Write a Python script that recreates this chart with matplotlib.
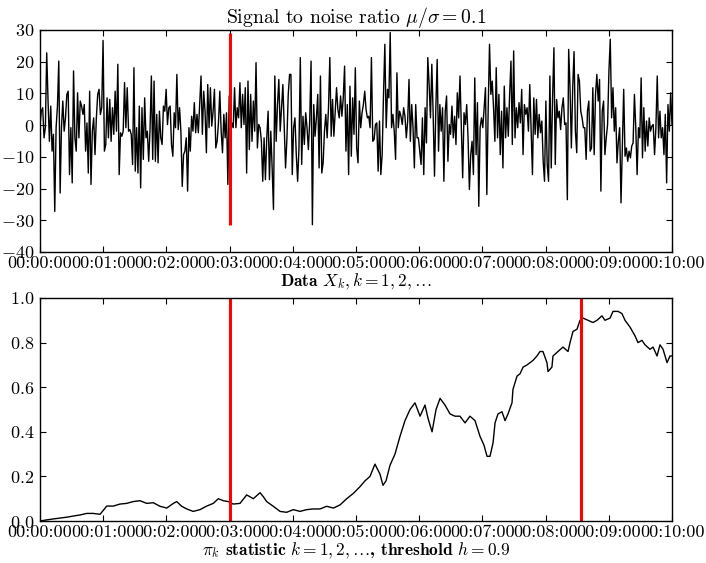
import numpy as np
import matplotlib
matplotlib.use("Agg")
import matplotlib.pyplot as plt
from matplotlib.ticker import MultipleLocator, FuncFormatter

# ---------------- data ----------------
signal = [
    0.2, 4.4, 5.5, -4.0, -0.8, 22.8, 7.6, -5.1, 6.0, -8.2, -2.9, -27.2, -0.8, 6.0, 20.2, -21.4,
    -0.8, 7.6, -1.9, 2.3, 9.7, 10.7, -15.6, -0.8, -18.2, 17.1, -4.0, -8.2, 10.2, -4.0, 7.6, 6.0,
    3.4, 6.5, -8.2, 0.7, -15.1, 10.7, -18.7, -1.9, 2.3, -9.3, 2.3, 9.7, 11.3, 3.4, 5.5, 26.7,
    -8.2, -6.1, 8.6, -4.0, 8.1, -5.1, 5.5, -2.9, 10.7, -1.9, 19.2, -15.6, -2.4, -3.5, -1.9, 13.4,
    -0.8, 11.8, -1.9, -1.4, -2.9, -12.4, 18.1, -14.5, -0.8, -15.1, 6.0, -19.8, 5.5, -10.8, 8.6,
    -4.0, -1.9, -11.4, -1.4, 15.5, -10.8, 13.9, -11.4, 3.4, -11.9, 4.4, -4.0, -6.1, 6.0,
    # 2:00 - 4:00
    4.4, 11.3, 0.2, 5.5, 6.0, -6.1, -9.8, 3.9, -0.8, 16.0, -1.4, 5.5, -1.9, -19.3, -9.3, -8.2,
    -4.0, -20.8, -0.8, -8.2, 2.8, -1.9, 7.1, -2.4, 3.4, -2.4, 6.5, 15.5, -2.9, 10.7, 4.4, -8.7,
    12.8, -0.8, 11.8, -0.3, 4.4, 11.3, -7.2, -5.1, 0.7, 10.7, -1.9, -8.7, 3.4, -4.0, 3.9, -18.7,
    9.2, -3.5, 0.7, -0.8, 11.8, -0.8, 5.5, 2.3, 13.4, -0.8, 9.7, 0.2, 11.8, -15.1, 13.9, -7.7,
    9.7, -5.1, 7.6, -1.9, 19.7, -7.2, 0.2, -0.8, -5.1, -17.7, -4.0, -17.2, -4.0, 4.4, -17.2,
    -1.9, -13.5, -26.6, 15.5, -5.1, 6.5, 14.4, -1.9, 5.5, 12.8, -0.8, -13.5, -4.5, 9.7, 16.0,
    # 4:00 - 6:00
    16.0, -15.6, -0.8, 2.3, -9.3, -17.7, -7.2, 21.3, -12.4, 2.8, -6.1, 3.9, -0.8, -7.7, 1.3,
    20.2, -31.4, 6.5, -3.5, 2.3, 9.7, -13.5, 15.5, -15.1, -11.9, -1.9, 3.4, -4.0, 5.5, 21.3,
    -3.5, 8.1, -3.5, 3.9, 11.8, 4.9, 2.3, 9.2, 2.8, 8.6, 18.6, -8.2, 6.5, -15.6, 12.3, -9.8,
    8.6, -2.9, 18.1, -7.2, -11.9, 7.6, -0.8, 3.9, 6.5, 10.7, 4.9, 2.3, 2.8, -0.8, 21.3, -5.1,
    -4.5, 0.2, 0.7, -14.5, 1.3, -15.6, -9.3, 9.7, 25.5, -0.8, 11.3, 8.6, 29.2, -0.8, 3.4,
    -1.9, -10.8, 16.5, -0.8, 4.4, 2.8, 0.2, 5.5, 2.8, -4.0, 1.3, 14.4, -5.1, 6.5, -0.8, -13.5,
    6.5, -4.0,
    # 6:00 - 8:00
    -4.0, -8.2, -12.4, 2.3, -15.6, 5.5, -5.6, 21.3, 12.8, 2.3, 19.2, 3.4, -16.1, 5.5, 20.7,
    -8.2, 6.5, -1.9, 5.5, -17.7, 4.4, 9.2, -11.4, 0.2, -2.9, 6.0, -4.0, 2.8, -6.1, 10.2, 2.3,
    15.5, -0.8, -16.6, 3.9, 0.2, 6.5, -4.0, -20.3, -9.3, -5.1, -15.6, 14.9, -9.3, 7.1, -25.6,
    -0.8, 2.3, -0.8, 5.5, 11.8, -21.9, 4.9, 25.5, 9.7, 13.9, 5.5, -5.1, 18.1, -4.0, 9.7, -9.3,
    4.4, -13.5, 12.3, -4.0, 5.5, -3.5, 9.7, 20.2, -6.1, 23.4, -4.0, 5.5, -0.8, 7.1, 0.7, 11.3,
    -9.3, 6.5, 3.4, 5.5, -1.9, 12.8, -1.4, -15.6, 8.6, -2.9, 8.1, -4.0, 3.4, -2.4, 1.3, -11.4,
    -17.7, 7.6,
    # 8:00 - 10:00
    -12.4, -17.7, 15.5, -13.5, 8.6, 24.4, -12.4, 8.1, 2.3, 4.4, -1.4, 5.5, 8.6, 0.2, 0.7,
    -23.5, 23.9, 11.8, -7.2, 11.8, 23.2, -1.9, -8.7, 16.0, 13.9, 4.4, 2.3, -0.8, -0.8, -10.8,
    4.4, 7.6, -8.2, -7.2, 11.8, -9.3, 9.7, 16.0, 7.6, 14.4, -20.8, 4.4, 7.6, -9.3, -4.0, 0.2,
    17.1, 27.1, 2.3, 11.8, -1.9, 5.5, -11.9, -5.1, -0.8, -24.5, -7.2, 11.3, -9.8, -7.2, -11.4,
    -8.2, -10.3, -6.6, -5.6, 9.7, -0.8, -15.6, -0.8, -4.0, 14.9, -10.3, 5.5, -8.2, 1.3, -6.6,
    2.3, -1.9, -0.3, 0.2, -9.3, -0.8, 15.5, -4.0, 4.4, -4.0, -0.8, -9.3, 3.4, -18.2, 6.5,
    -1.9, 10.2, 0.2,
]

pi_t = [0, 6.4, 12.3, 19, 25.3, 31.3, 38, 44.3, 50.6, 57, 61.7, 63.3, 69.6, 76, 82.3, 88.3,
        94.9, 101.3, 107.6, 113.9, 120.3, 126.6, 129.8, 134.5, 139.3, 145.5, 151.9, 158.3,
        164.5, 169.3, 174, 178.8, 183.5, 189.9, 196.2, 202.5, 208.9, 212, 215.2, 221.5,
        227.9, 234.2, 240.5, 246.8, 253.2, 259.5, 265.8, 272.2, 278.5, 284.8, 291.2, 297.5,
        303.8, 308.5, 313.3, 318, 322.8, 325.6, 328.5, 332.3, 337, 341.8, 346.5, 351.3, 356,
        360.8, 365.5, 368.4, 372.2, 376, 379.8, 384.5, 389.3, 394, 398.7, 403.5, 408.2, 413,
        417.7, 421.5, 424.4, 427.2, 430.1, 432, 434.8, 438.6, 441.5, 444.3, 448.1, 449,
        452.9, 455.7, 458.6, 462.4, 465.2, 468, 471.8, 474.7, 477.5, 481.3, 482.3, 486, 487,
        491.8, 496.5, 501.3, 503.2, 506, 509.8, 512.7, 515.5, 520.3, 525, 528.8, 533.5,
        536.4, 541.2, 544, 548.8, 552.5, 555.4, 560.1, 564.9, 567.7, 571.5, 574.4, 579.1,
        582, 585.8, 588.6, 591.5, 595.3, 598.1, 600]
pi_v = [0.0, 0.005, 0.009, 0.013, 0.017, 0.022, 0.027, 0.034, 0.034, 0.03, 0.057, 0.067,
        0.067, 0.076, 0.079, 0.087, 0.091, 0.079, 0.082, 0.066, 0.058, 0.079, 0.087, 0.066,
        0.054, 0.043, 0.051, 0.067, 0.079, 0.10, 0.091, 0.087, 0.076, 0.079, 0.117, 0.10,
        0.127, 0.109, 0.087, 0.066, 0.043, 0.039, 0.051, 0.043, 0.051, 0.054, 0.054, 0.066,
        0.058, 0.072, 0.10, 0.124, 0.154, 0.18, 0.20, 0.255, 0.21, 0.16, 0.18, 0.25, 0.30,
        0.38, 0.45, 0.50, 0.53, 0.47, 0.52, 0.46, 0.40, 0.50, 0.55, 0.52, 0.48, 0.47, 0.47,
        0.44, 0.47, 0.45, 0.38, 0.34, 0.29, 0.29, 0.35, 0.44, 0.48, 0.49, 0.45, 0.48, 0.53,
        0.59, 0.65, 0.66, 0.69, 0.70, 0.71, 0.72, 0.74, 0.76, 0.76, 0.71, 0.67, 0.69, 0.74,
        0.76, 0.78, 0.76, 0.80, 0.85, 0.86, 0.90, 0.91, 0.90, 0.89, 0.90, 0.92, 0.90, 0.91,
        0.94, 0.94, 0.93, 0.90, 0.87, 0.83, 0.80, 0.81, 0.79, 0.77, 0.78, 0.74, 0.79, 0.77,
        0.71, 0.74, 0.74]

change_time = 180      # seconds (00:03:00)
alarm_time = 514       # seconds, first crossing of threshold
t_end = 600

# ---------------- style ----------------
plt.rcParams.update({
    "font.family": "serif",
    "font.serif": ["cmr10"],
    "mathtext.fontset": "cm",
    "axes.formatter.use_mathtext": True,
    "axes.unicode_minus": True,
    "font.size": 13,
    "xtick.direction": "in",
    "ytick.direction": "in",
    "xtick.top": True,
    "ytick.right": True,
    "xtick.major.size": 4,
    "ytick.major.size": 4,
    "xtick.major.pad": 3,
    "ytick.major.pad": 4,
    "axes.linewidth": 1.0,
})

def hms(x, pos):
    x = int(round(x))
    return "%02d:%02d:%02d" % (x // 3600, (x // 60) % 60, x % 60)

sig = np.array(signal)
t_sig = np.linspace(0, t_end, len(sig))

fig = plt.figure(figsize=(7.06, 5.63), dpi=100)
ax1 = fig.add_axes([40/706, 1-252/563, 632/706, 222/563])
ax2 = fig.add_axes([40/706, 1-521/563, 632/706, 223/563])

ax1.plot(t_sig, sig, color="black", lw=1.0)
ax1.vlines(change_time, sig.min(), sig.max(), color="red", lw=2.2)
ax1.set_xlim(0, t_end)
ax1.set_ylim(-40, 30)
ax1.yaxis.set_major_locator(MultipleLocator(10))
ax1.set_title(r"Signal to noise ratio $\mu/\sigma = 0.1$", fontsize=14.2, pad=2)
ax1.set_xlabel(r"Data $X_k, k=1,2,\ldots$", family="cmb10", fontsize=12.5, labelpad=0)

ax2.plot(pi_t, pi_v, color="black", lw=1.0)
ax2.axvline(change_time, color="red", lw=2.2)
ax2.axvline(alarm_time, color="red", lw=2.2)
ax2.set_xlim(0, t_end)
ax2.set_ylim(0, 1.0)
ax2.yaxis.set_major_locator(MultipleLocator(0.2))
ax2.set_xlabel(r"$\pi_k$ statistic $k=1,2,\ldots$, threshold $h=0.9$", family="cmb10",
               fontsize=12.5, labelpad=0)

for ax in (ax1, ax2):
    ax.xaxis.set_major_locator(MultipleLocator(60))
    ax.xaxis.set_major_formatter(FuncFormatter(hms))

fig.savefig("out.png", dpi=100)
